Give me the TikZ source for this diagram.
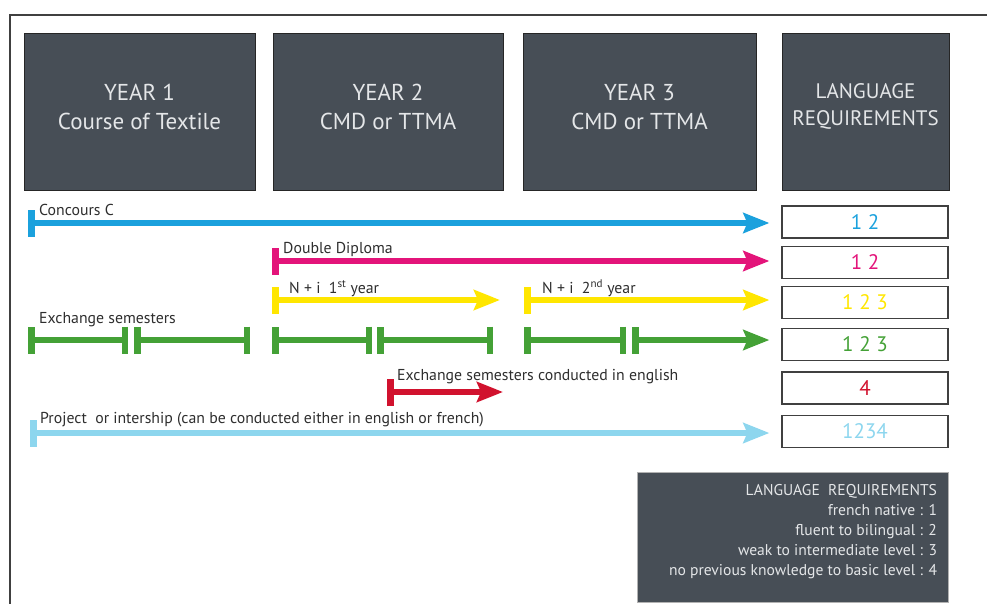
\documentclass[tikz,border=0pt]{standalone}
\usepackage{fontspec}
\setmainfont{PT Sans}
\usepackage{xcolor}
\usetikzlibrary{arrows.meta,positioning}
\definecolor{boxgray}{HTML}{474E56}
\definecolor{boxtext}{HTML}{E4E6E8}
\definecolor{labgray}{HTML}{2E2E2E}
\definecolor{cblue}{HTML}{1BA1DD}
\definecolor{cmag}{HTML}{E3147A}
\definecolor{cyel}{HTML}{FFE600}
\definecolor{cgreen}{HTML}{44A136}
\definecolor{cred}{HTML}{D1122E}
\definecolor{clight}{HTML}{8DD6EE}
\tikzset{
  yearbox/.style={draw=black!85,fill=boxgray,minimum height=157pt,inner sep=0pt},
  headtxt/.style={text=boxtext,align=center,inner sep=0pt,font=\fontsize{23}{29}\selectfont},
  reqbox/.style={draw=black!75,line width=1.2pt,minimum width=166pt,
    minimum height=32pt,inner sep=0pt,font=\fontsize{21}{24}\selectfont},
  track/.style={line width=5.5pt},
  tracklab/.style={anchor=base west,inner sep=0pt,text=labgray,
    font=\fontsize{15.8}{18}\selectfont},
}
\newcommand{\barTip}{Bar[width=27pt,line width=6.5pt]}

\begin{document}
\begin{tikzpicture}[x=1pt,y=-1pt,>={Stealth[length=26pt,width=20pt,inset=4pt]}]
  \useasboundingbox (0,0) rectangle (987,604);
  \draw[line width=1.8pt,black!75] (10,606) -- (10,15) -- (990,15);
  % column heads
  \node[yearbox,minimum width=231pt] (yr1) at (139.5,111.5) {};
  \node[yearbox,minimum width=230pt] (yr2) at (388,111.5) {};
  \node[yearbox,minimum width=233pt] (yr3) at (639.5,111.5) {};
  \node[yearbox,minimum width=167pt] (lang) at (865.5,111.5) {};
  \node[headtxt] (yt1) at ([yshift=5pt]yr1.center) {YEAR 1\\Course of Textile};
  \node[headtxt] (yt2) at ([yshift=5pt]yr2.center) {YEAR 2\\CMD or TTMA};
  \node[headtxt] (yt3) at ([yshift=5pt]yr3.center) {YEAR 3\\CMD or TTMA};
  \node[headtxt,font=\fontsize{21}{27}\selectfont] (langt) at ([yshift=5pt]lang.center)
    {LANGUAGE\\REQUIREMENTS};
  % requirement boxes
  \foreach \n/\yy/\c/\t in {1/222/cblue/1 2,2/262.5/cmag/1 2,3/302.5/cyel/1 2 3,
      4/344.5/cgreen/1 2 3,5/388/cred/4,6/431.5/clight/1234}
    \node[reqbox,text=\c] (req\n) at (865,\yy) {\t};
  % tracks
  \coordinate (sConc) at (28,223);
  \draw[track,cblue,{\barTip}->,shorten >=12pt] (sConc) -- (sConc -| req1.west);
  \node[tracklab] (lConc) at (39,215) {Concours C};
  \coordinate (sDD) at (272,261);
  \draw[track,cmag,{\barTip}->,shorten >=12pt] (sDD) -- (sDD -| req2.west);
  \node[tracklab] (lDD) at (283,253) {Double Diploma};
  \coordinate (sNa) at (272,300);
  \coordinate (eNa) at (500,300);
  \draw[track,cyel,{\barTip}->] (sNa) -- (eNa);
  \node[tracklab] (lNa) at (289,293) {N + i\ \ 1\textsuperscript{st} year};
  \coordinate (sNb) at (524,300);
  \draw[track,cyel,{\barTip}->,shorten >=12pt] (sNb) -- (sNb -| req3.west);
  \node[tracklab] (lNb) at (542,293) {N + i\ \ 2\textsuperscript{nd} year};
  % exchange semesters
  \node[tracklab] (lEx) at (39,323) {Exchange semesters};
  \foreach \i/\a/\b in {1/28/128,2/134/250,3/272/372,4/377/493,5/524/626} {
    \coordinate (ga\i) at (\a,340);
    \coordinate (gb\i) at (\b,340);
    \draw[track,cgreen,{\barTip}-{\barTip}] (ga\i) -- (gb\i);
  }
  \coordinate (ga6) at (632,340);
  \draw[track,cgreen,{\barTip}->,shorten >=12pt] (ga6) -- (ga6 -| req4.west);
  % english
  \coordinate (sEn) at (387,392);
  \coordinate (eEn) at (503,392);
  \draw[track,cred,{\barTip}->] (sEn) -- (eEn);
  \node[tracklab] (lEn) at (397,380) {Exchange semesters conducted in english};
  \coordinate (sPr) at (30,433);
  \draw[track,clight,{\barTip}->,shorten >=12pt] (sPr) -- (sPr -| req6.west);
  \node[tracklab] (lPr) at (40,423) {Project\ \ or intership (can be conducted either in english or french)};
  % legend
  \node[fill=boxgray,draw=black!30,minimum width=311pt,minimum height=130pt,inner sep=0pt]
    (leg) at (792.5,537) {};
  \node[anchor=north east,align=right,inner sep=0pt,text=boxtext,
    font=\fontsize{15.6}{20}\selectfont] (legtxt) at ([xshift=-11pt,yshift=-12pt]leg.north east)
    {LANGUAGE\ \ REQUIREMENTS\\french native : 1\\fluent to bilingual : 2\\
     weak to intermediate level : 3\\no previous knowledge to basic level : 4};
\end{tikzpicture}
\end{document}
